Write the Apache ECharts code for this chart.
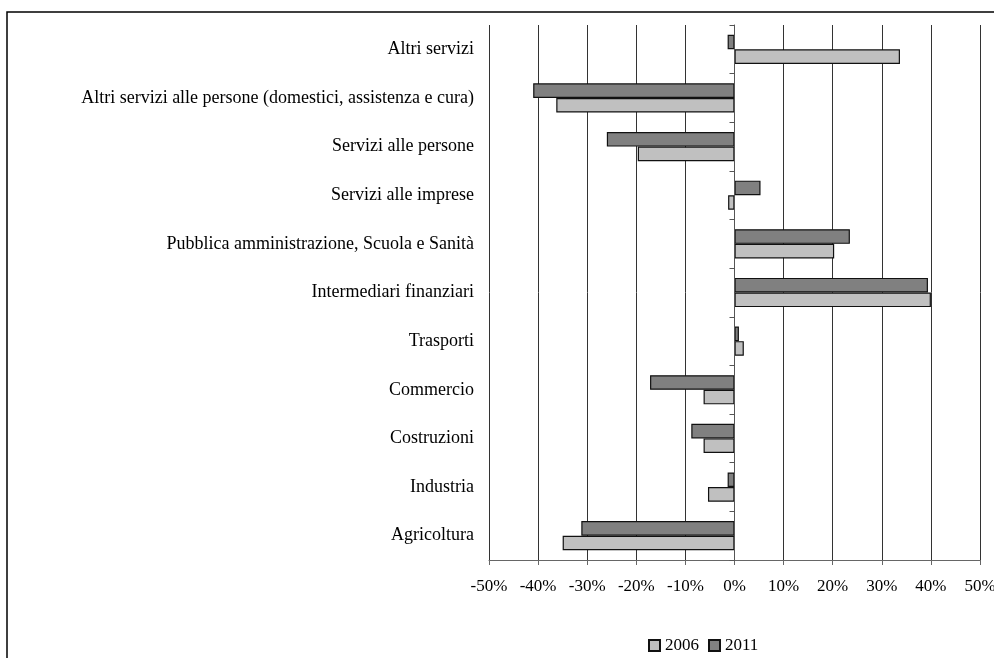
<!DOCTYPE html>
<html>
<head>
<meta charset="utf-8">
<script src="https://cdn.jsdelivr.net/npm/echarts@6/dist/echarts.min.js"></script>
<style>
  html, body { margin: 0; padding: 0; background: #fff; }
  #chart { width: 994px; height: 658px; }
</style>
</head>
<body>
<div id="chart"></div>
<script>
// categories, bottom to top (as on the category axis)
var settori = [
  "Agricoltura",
  "Industria",
  "Costruzioni",
  "Commercio",
  "Trasporti",
  "Intermediari finanziari",
  "Pubblica amministrazione, Scuola e Sanità",
  "Servizi alle imprese",
  "Servizi alle persone",
  "Altri servizi alle persone (domestici, assistenza e cura)",
  "Altri servizi"
];
// variazione percentuale
var anno2006 = [-35.0, -5.4, -6.3, -6.3, 1.9, 40.0, 20.3, -1.3, -19.7, -36.3, 33.7];
var anno2011 = [-31.2, -1.4, -8.8, -17.2, 0.9, 39.4, 23.5, 5.3, -26.0, -41.0, -1.4];

var serif = "'Liberation Serif', 'Times New Roman', serif";

var chart = echarts.init(document.getElementById("chart"));
var option = {
  animation: false,
  graphic: [
    {
      // cornice del grafico
      type: "rect",
      shape: { x: 7, y: 12, width: 1200, height: 900 },
      style: { fill: "none", stroke: "#000", lineWidth: 1.5 },
      silent: true
    }
  ],
  legend: {
    left: 643,
    top: 632,
    icon: "rect",
    itemWidth: 11,
    itemHeight: 11,
    itemGap: 9,
    textStyle: { fontFamily: serif, fontSize: 17, color: "#000" },
    data: ["2006", "2011"]
  },
  grid: {
    left: 489,
    right: 14,
    top: 25,
    bottom: 98,
    outerBoundsMode: "none"
  },
  xAxis: {
    type: "value",
    min: -50,
    max: 50,
    interval: 10,
    axisLine: { show: true, onZero: false, lineStyle: { color: "#666", width: 1 } },
    axisTick: { show: true, length: 5, lineStyle: { color: "#666" } },
    axisLabel: {
      formatter: "{value}%",
      margin: 18,
      fontFamily: serif,
      fontSize: 17,
      color: "#000"
    },
    splitLine: { show: true, lineStyle: { color: "#333", width: 1 } }
  },
  yAxis: [
    {
      // solo etichette a sinistra
      type: "category",
      data: settori,
      axisLine: { show: false, onZero: false },
      axisTick: { show: false },
      axisLabel: {
        margin: 15,
        fontFamily: serif,
        fontSize: 18,
        color: "#000"
      }
    },
    {
      // asse sullo zero
      type: "category",
      position: "left",
      data: settori,
      z: 5,
      axisLine: { show: true, onZero: true, lineStyle: { color: "#555", width: 1 } },
      axisTick: { show: true, length: 5, lineStyle: { color: "#555" } },
      axisLabel: { show: false },
      splitLine: { show: false }
    }
  ],
  series: [
    {
      name: "2011",
      type: "bar",
      yAxisIndex: 0,
      barGap: "0%",
      barCategoryGap: "40%",
      itemStyle: { color: "#808080", borderColor: "#111", borderWidth: 1.2 },
      data: anno2011
    },
    {
      name: "2006",
      type: "bar",
      yAxisIndex: 0,
      barGap: "0%",
      barCategoryGap: "40%",
      itemStyle: { color: "#c0c0c0", borderColor: "#111", borderWidth: 1.2 },
      data: anno2006
    }
  ]
};
chart.setOption(option);
</script>
</body>
</html>
